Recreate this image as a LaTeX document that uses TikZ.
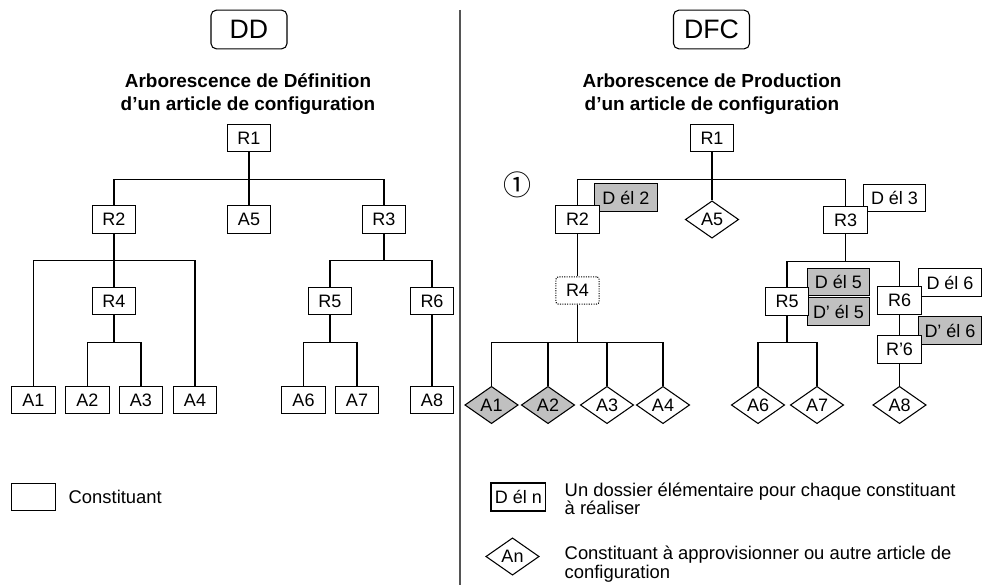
\documentclass[tikz,border=0pt]{standalone}
\usepackage{fontspec}
\setmainfont{Liberation Sans}
\newfontfamily\symfont{Noto Sans CJK SC}
\usetikzlibrary{shapes.geometric}
\definecolor{cellgray}{RGB}{192,192,192}
\definecolor{divgray}{RGB}{85,85,85}
\tikzset{
  lbl/.style={font=\fontsize{13.5}{15}\selectfont},
  cbox/.style={lbl, draw, fill=white, line width=0.8pt, minimum width=32.5pt, minimum height=20.5pt, inner sep=0pt},
  delbox/.style={lbl, draw, line width=0.8pt, minimum width=47pt, minimum height=20.5pt, inner sep=0pt, fill=white},
  delgray/.style={delbox, fill=cellgray},
  adiam/.style={lbl, draw, diamond, aspect=1.4, fill=white, line width=0.8pt, minimum width=40pt, minimum height=28pt, inner sep=0pt},
  agray/.style={adiam, fill=cellgray},
  link/.style={line width=0.8pt},
  headbox/.style={draw, rounded corners=4pt, line width=0.8pt, minimum width=57pt, minimum height=29pt, inner sep=0pt, font=\fontsize{20}{22}\selectfont},
  title/.style={align=center, font=\bfseries\fontsize{14.2}{17}\selectfont},
  legtext/.style={align=left, anchor=west, font=\fontsize{13.8}{13.9}\selectfont},
}
\begin{document}
\begin{tikzpicture}[x=0.75pt,y=-0.75pt]
\useasboundingbox (0,0) rectangle (985,585);
% divider
\draw[divgray, line width=1.5pt] (459.5,10) coordinate (dtop) -- (459.5,585) coordinate (dbot);

% ===== Left: DD =====
\node[headbox] (DD) at (249,29.5) {DD};
\node[title] (tL) at (248,94) {Arborescence de Définition\\d’un article de configuration};

\node[cbox] (L1) at (249,138) {R1};
\node[cbox] (L2) at (114,219.5) {R2};
\node[cbox] (LA5) at (249,219.5) {A5};
\node[cbox] (L3) at (384,219.5) {R3};
\node[cbox] (L4) at (114,301) {R4};
\node[cbox] (L5) at (330,301) {R5};
\node[cbox] (L6) at (432,301) {R6};
\node[cbox] (LA1) at (33.5,400) {A1};
\node[cbox] (LA2) at (87.5,400) {A2};
\node[cbox] (LA3) at (141,400) {A3};
\node[cbox] (LA4) at (195,400) {A4};
\node[cbox] (LA6) at (303.5,400) {A6};
\node[cbox] (LA7) at (357,400) {A7};
\node[cbox] (LA8) at (432,400) {A8};

\draw[link] (L1) -- (LA5);
\draw[link] (L1.south) -- +(0,27) -| (L2.north);
\draw[link] (L1.south) ++(0,27) -| (L3.north);
\draw[link] (L2) -- (L4);
\draw[link] (L2.south) -- +(0,27) -| (LA1.north);
\draw[link] (L2.south) ++(0,27) -| (LA4.north);
\draw[link] (L4.south) -- +(0,27) -| (LA2.north);
\draw[link] (L4.south) ++(0,27) -| (LA3.north);
\draw[link] (L3.south) -- +(0,27) -| (L5.north);
\draw[link] (L3.south) ++(0,27) -| (L6.north);
\draw[link] (L5.south) -- +(0,27) -| (LA6.north);
\draw[link] (L5.south) ++(0,27) -| (LA7.north);
\draw[link] (L6) -- (LA8);

% legend left
\node[cbox] (legC) at (33.5,497) {};
\node[legtext] (legCt) at (64,497) {Constituant};

% ===== Right: DFC =====
\node[headbox] (DFC) at (711.5,29.5) {DFC};
\node[title] (tR) at (712,94) {Arborescence de Production\\d’un article de configuration};

\node[font=\symfont\fontsize{21}{22}\selectfont, inner sep=0pt] (one) at (517,185) {①};

% dossier boxes first (behind)
\node[delgray] (D2) at (626,197.5) {D él 2};
\node[delbox] (D3) at (894.5,198) {D él 3};
\node[delgray] (D5) at (838.5,282) {D él 5};
\node[delgray] (Dp5) at (838.5,311.5) {D’ él 5};
\node[delbox] (D6) at (950,282.5) {D él 6};
\node[delgray] (Dp6) at (950,330.5) {D’ él 6};

\node[cbox] (R1) at (712,138) {R1};
\node[cbox] (R2) at (577.5,219.5) {R2};
\node[adiam] (A5) at (712,219.5) {A5};
\node[cbox] (R3) at (845.5,220) {R3};
\node[cbox, densely dotted, rounded corners=2pt] (R4) at (577.5,290.5) {R4};
\node[cbox] (R5) at (787,301.5) {R5};
\node[cbox] (R6) at (899.5,300.5) {R6};
\node[cbox] (Rp6) at (899.5,349.5) {R’6};
\node[agray] (A1) at (491.5,405) {A1};
\node[agray] (A2) at (548,405) {A2};
\node[adiam] (A3) at (607,405) {A3};
\node[adiam] (A4) at (663,405) {A4};
\node[adiam] (A6) at (758,405) {A6};
\node[adiam] (A7) at (817,405) {A7};
\node[adiam] (A8) at (899.5,405) {A8};

\draw[link] (R1) -- (A5);
\draw[link] (R1.south) -- +(0,27) -| (R2.north);
\draw[link] (R1.south) ++(0,27) -| (R3.north);
\draw[link] (R2) -- (R4);
\draw[link] (R4.south) -- +(0,38) -| (A1.north);
\draw[link] (R4.south) ++(0,38) -| (A2.north);
\draw[link] (R4.south) ++(0,38) -| (A3.north);
\draw[link] (R4.south) ++(0,38) -| (A4.north);
\draw[link] (R3.south) -- +(0,27) -| (R5.north);
\draw[link] (R3.south) ++(0,27) -| (R6.north);
\draw[link] (R6) -- (Rp6);
\draw[link] (R5.south) -- +(0,27) -| (A6.north);
\draw[link] (R5.south) ++(0,27) -| (A7.north);
\draw[link] (Rp6) -- (A8);

% legend right
\node[delbox, minimum width=41pt, minimum height=21pt] (legD) at (518.3,497) {D él n};
\node[legtext] (legDt) at (560,499) {Un dossier élémentaire pour chaque constituant\\à réaliser};
\node[adiam] (legA) at (512.5,556.5) {An};
\node[legtext] (legAt) at (560,564) {Constituant à approvisionner ou autre article de\\configuration};
\end{tikzpicture}
\end{document}
